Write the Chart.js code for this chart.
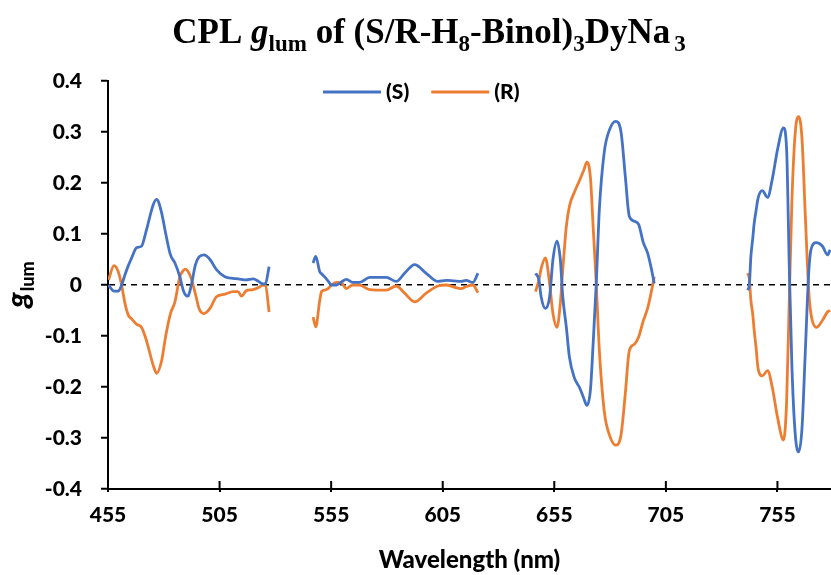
<!DOCTYPE html>
<html>
<head>
<meta charset="utf-8">
<script src="https://cdn.jsdelivr.net/npm/chart.js@4"></script>
<style>
  html, body { margin: 0; padding: 0; background: #fff; }
  #wrap { width: 831px; height: 575px; }
</style>
</head>
<body>
<div id="wrap"><canvas id="cpl"></canvas></div>
<script>
// --- data (wavelength in nm, g_lum) ---
const xTicks = [455, 505, 555, 605, 655, 705, 755];

const wl1 = [455.2, 457.7, 459.6, 461.1, 462.6, 464.1, 465.5, 467.8, 470.0, 472.3, 475.3, 476.8, 479.0, 480.9, 483.0, 485.0, 487.2, 488.7, 489.8, 490.8, 492.2, 494.2, 495.8, 498.0, 500.7, 503.6, 507.4, 511.1, 513.3, 514.8, 517.0, 520.0, 522.5, 524.5, 525.6, 527.2];
const s1 = [0.0, -0.012, -0.012, 0.0, 0.02, 0.038, 0.052, 0.073, 0.076, 0.109, 0.158, 0.168, 0.142, 0.1, 0.059, 0.043, 0.016, -0.01, -0.02, -0.022, -0.003, 0.04, 0.055, 0.059, 0.05, 0.03, 0.016, 0.013, 0.012, 0.011, 0.01, 0.012, 0.007, 0.002, 0.003, 0.036];
const r1 = [0.01, 0.038, 0.026, 0.0, -0.036, -0.059, -0.066, -0.077, -0.083, -0.11, -0.158, -0.173, -0.149, -0.099, -0.056, -0.033, 0.016, 0.028, 0.031, 0.027, 0.014, -0.018, -0.046, -0.056, -0.046, -0.023, -0.018, -0.013, -0.013, -0.022, -0.011, -0.009, -0.005, 0.0, -0.001, -0.053];

const wl2 = [546.9, 548.1, 549.9, 550.7, 552.1, 553.6, 555.1, 557.4, 559.6, 561.8, 564.7, 567.7, 572.3, 579.7, 584.2, 587.9, 592.4, 597.6, 602.8, 606.6, 610.0, 613.3, 615.5, 618.5, 620.8];
const s2 = [0.043, 0.056, 0.026, 0.022, 0.016, 0.008, 0.0, 0.0, 0.006, 0.011, 0.005, 0.005, 0.015, 0.015, 0.007, 0.023, 0.04, 0.023, 0.007, 0.009, 0.008, 0.007, 0.009, 0.005, 0.023];
const r2 = [-0.063, -0.082, -0.03, -0.013, -0.01, -0.007, 0.0, 0.005, 0.004, -0.007, 0.0, 0.0, -0.009, -0.01, -0.002, -0.016, -0.033, -0.016, -0.002, 0.0, -0.004, -0.007, -0.003, 0.0, -0.015];

const wl3 = [646.6, 648.1, 649.1, 651.0, 652.9, 654.4, 656.2, 657.7, 658.8, 660.4, 661.8, 664.0, 666.3, 668.2, 669.6, 671.2, 672.4, 673.8, 675.2, 677.4, 679.7, 682.5, 684.9, 686.8, 688.6, 690.9, 692.8, 694.9, 696.8, 698.3, 699.8];
const s3 = [0.023, 0.01, -0.023, -0.046, -0.023, 0.05, 0.086, 0.05, -0.023, -0.083, -0.142, -0.182, -0.201, -0.222, -0.236, -0.205, -0.116, 0.003, 0.149, 0.261, 0.304, 0.321, 0.3, 0.214, 0.135, 0.125, 0.119, 0.083, 0.063, 0.036, 0.003];
const r3 = [-0.013, 0.01, 0.032, 0.053, 0.003, -0.056, -0.083, -0.036, 0.03, 0.115, 0.155, 0.182, 0.205, 0.225, 0.241, 0.21, 0.115, 0.003, -0.129, -0.248, -0.294, -0.314, -0.294, -0.214, -0.129, -0.116, -0.102, -0.07, -0.046, -0.017, 0.016];

const wl4 = [741.6, 742.4, 743.1, 743.9, 744.6, 745.4, 746.3, 748.2, 750.6, 752.7, 755.1, 757.7, 759.1, 760.3, 761.5, 763.0, 764.5, 766.0, 767.5, 769.0, 770.0, 772.4, 775.2, 777.4, 778.6];
const s4 = [-0.01, 0.0, 0.056, 0.09, 0.122, 0.145, 0.17, 0.185, 0.172, 0.208, 0.267, 0.308, 0.267, 0.036, -0.162, -0.294, -0.327, -0.281, -0.129, 0.023, 0.069, 0.083, 0.076, 0.059, 0.069];
const r4 = [0.023, 0.012, -0.03, -0.056, -0.09, -0.122, -0.163, -0.178, -0.168, -0.201, -0.261, -0.304, -0.23, -0.03, 0.168, 0.3, 0.33, 0.287, 0.135, -0.01, -0.056, -0.083, -0.069, -0.053, -0.05];

const seriesNames = ['(S)', '(R)'];
const seriesColors = ['#4472C4', '#ED7D31'];

// join the four measured windows, null between them breaks the line
function joinSegments(xs, ys) {
  const pts = [];
  xs.forEach((seg, i) => {
    if (i > 0) pts.push({x: (xs[i - 1][xs[i - 1].length - 1] + seg[0]) / 2, y: null});
    seg.forEach((x, j) => pts.push({x: x, y: ys[i][j]}));
  });
  return pts;
}

const wls = [wl1, wl2, wl3, wl4];
const sPoints = joinSegments(wls, [s1, s2, s3, s4]);
const rPoints = joinSegments(wls, [r1, r2, r3, r4]);

const tickFont = {family: 'Lato', size: 21, weight: 900};

// title, y title, legend and the inner half of the x tick marks
const decorations = {
  id: 'decorations',
  afterDraw(chart) {
    const ctx = chart.ctx;
    const area = chart.chartArea;
    ctx.save();
    ctx.fillStyle = '#000';
    ctx.textBaseline = 'alphabetic';

    // title with subscripts
    const main = 'bold 35px "Liberation Serif"';
    const sub = 'bold 23px "Liberation Serif"';
    const parts = [
      {t: 'CPL ', f: main, dy: 0},
      {t: 'g', f: 'italic bold 35px "Liberation Serif"', dy: 0},
      {t: 'lum', f: sub, dy: 8},
      {t: ' of (S/R-H', f: main, dy: 0},
      {t: '8', f: sub, dy: 8},
      {t: '-Binol)', f: main, dy: 0},
      {t: '3', f: sub, dy: 8},
      {t: 'DyNa', f: main, dy: 0},
      {t: '3', f: sub, dy: 8, pad: 4}
    ];
    let total = 0;
    parts.forEach(p => { ctx.font = p.f; p.w = ctx.measureText(p.t).width + (p.pad || 0); total += p.w; });
    let x = 429 - total / 2;
    parts.forEach(p => { ctx.font = p.f; ctx.fillText(p.t, x + (p.pad || 0), 43 + p.dy); x += p.w; });

    // y axis title g_lum, rotated
    const cy = (area.top + area.bottom) / 2;
    ctx.save();
    ctx.translate(28, cy);
    ctx.rotate(-Math.PI / 2);
    ctx.font = 'italic 900 30px Lato';
    const gw = ctx.measureText('g').width;
    ctx.font = '900 18px Lato';
    const lw = ctx.measureText('lum').width;
    let tx = -(gw + lw) / 2;
    ctx.font = 'italic 900 30px Lato';
    ctx.fillText('g', tx, 0);
    ctx.font = '900 18px Lato';
    ctx.fillText('lum', tx + gw + 1, 6);
    ctx.restore();

    // legend inside the plot, like the original
    let lx = 323;
    const ly = 92;
    ctx.font = '900 21px Lato';
    ctx.textBaseline = 'middle';
    chart.data.datasets.forEach(ds => {
      ctx.strokeStyle = ds.borderColor;
      ctx.lineWidth = 3;
      ctx.beginPath();
      ctx.moveTo(lx, ly);
      ctx.lineTo(lx + 58, ly);
      ctx.stroke();
      ctx.fillText(ds.label, lx + 63, ly);
      lx += 63 + ctx.measureText(ds.label).width + 22;
    });

    // x tick marks cross the axis
    const xs = chart.scales.x;
    ctx.strokeStyle = '#000';
    ctx.lineWidth = 2;
    xs.ticks.forEach(t => {
      const px = xs.getPixelForValue(t.value);
      ctx.beginPath();
      ctx.moveTo(px, area.bottom - 8);
      ctx.lineTo(px, area.bottom);
      ctx.stroke();
    });
    ctx.restore();
  }
};

new Chart(document.getElementById('cpl'), {
  type: 'line',
  data: {
    datasets: [
      {label: seriesNames[0], data: sPoints, borderColor: seriesColors[0], backgroundColor: seriesColors[0],
       borderWidth: 2.8, pointRadius: 0, cubicInterpolationMode: 'monotone', spanGaps: false},
      {label: seriesNames[1], data: rPoints, borderColor: seriesColors[1], backgroundColor: seriesColors[1],
       borderWidth: 2.8, pointRadius: 0, cubicInterpolationMode: 'monotone', spanGaps: false}
    ]
  },
  options: {
    responsive: true,
    maintainAspectRatio: false,
    animation: false,
    layout: {padding: {top: 81, left: 0, right: 0, bottom: 0}},
    plugins: {
      legend: {display: false},
      title: {display: false},
      tooltip: {enabled: false}
    },
    scales: {
      x: {
        type: 'linear',
        min: 455,
        max: 779,
        afterBuildTicks: scale => { scale.ticks = xTicks.map(v => ({value: v})); },
        afterFit: scale => { scale.height = 86; },
        grid: {drawOnChartArea: false, color: '#000', tickColor: '#000', tickLength: 3, lineWidth: 2},
        border: {display: true, color: '#000', width: 2},
        ticks: {font: tickFont, color: '#000', padding: 11, maxRotation: 0,
                callback: v => String(v)},
        title: {display: true, text: 'Wavelength (nm)', color: '#000',
                font: {family: 'Lato', size: 24, weight: 900}, padding: {top: 0, bottom: 0}}
      },
      y: {
        min: -0.4,
        max: 0.4,
        afterFit: scale => { scale.width = 108; },
        ticks: {stepSize: 0.1, font: tickFont, color: '#000', padding: 19,
                callback: v => Math.abs(v) < 1e-9 ? '0' : v.toFixed(1)},
        grid: {
          color: c => (c.tick && Math.abs(c.tick.value) < 1e-9) ? '#000' : 'rgba(0,0,0,0)',
          lineWidth: 1.5,
          tickColor: '#000',
          tickWidth: 2,
          tickLength: 7
        },
        border: {display: true, color: '#000', width: 2, dash: [6, 5]}
      }
    }
  },
  plugins: [decorations]
});
</script>
</body>
</html>
